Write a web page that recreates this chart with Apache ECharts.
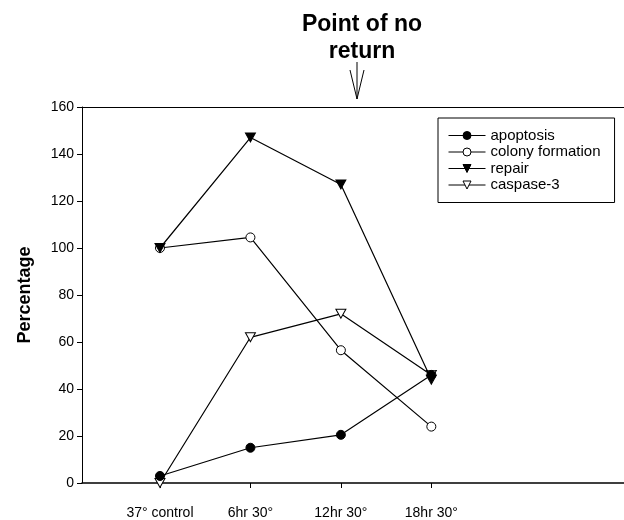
<!DOCTYPE html>
<html>
<head>
<meta charset="utf-8">
<script src="https://cdn.jsdelivr.net/npm/echarts@6/dist/echarts.min.js"></script>
<style>
  html, body { margin: 0; padding: 0; background: #fff; }
  #chart { width: 624px; height: 520px; }
</style>
</head>
<body>
<div id="chart"></div>
<script>
// categories sit at x = 1..4
let categories = ['37° control', '6hr 30°', '12hr 30°', '18hr 30°'];
let catPos = [1, 2, 3, 4];
let apoptosis = [3, 15, 20.5, 46];
let colony = [100, 104.5, 56.5, 24];
let repair = [100, 147, 127, 44];
let caspase = [0, 62, 72, 46];
let yTicks = [0, 20, 40, 60, 80, 100, 120, 140, 160];

function pairs(vals){
    var out = [];
    for (var i = 0; i < vals.length; i++) {
        out.push([catPos[i], vals[i]]);
    }
    return out;
}

var font = 'Liberation Sans, Arial, sans-serif';
var tri = 'path://M0,0 L10,0 L5,9 Z';

myChart = echarts.init(document.getElementById('chart'));

option = {
    animation: false,
    textStyle: { fontFamily: font, color: '#000' },
    title: {
        text: 'Point of no\nreturn',
        left: 357,
        top: 6,
        textAlign: 'center',
        textStyle: { fontFamily: font, fontSize: 23, fontWeight: 'bold', color: '#000', lineHeight: 27 }
    },
    legend: {
        orient: 'vertical',
        left: 438,
        top: 118,
        width: 177,
        itemWidth: 37,
        itemHeight: 10,
        itemGap: 1.5,
        padding: [10, 14, 10, 10],
        borderColor: '#000',
        borderWidth: 1,
        lineStyle: { width: 1 },
        itemStyle: { borderWidth: 1 },
        textStyle: { fontFamily: font, fontSize: 15, lineHeight: 15, color: '#000' },
        data: ['apoptosis', 'colony formation', 'repair', 'caspase-3']
    },
    grid: { left: 82, right: 0, top: 107, bottom: 37 },
    xAxis: [{
        type: 'value',
        min: 0.138,
        max: 6.13,
        splitLine: { show: false },
        axisLine: { lineStyle: { color: '#000', width: 1.5 } },
        axisTick: { show: true, length: 5, inside: false, customValues: catPos, lineStyle: { color: '#000' } },
        axisLabel: {
            customValues: catPos,
            margin: 23,
            fontSize: 14,
            color: '#000',
            fontFamily: font,
            formatter: function (v) { return categories[Math.round(v) - 1] || ''; }
        }
    }, {
        type: 'value',
        position: 'top',
        min: 0.138,
        max: 6.13,
        splitLine: { show: false },
        axisLine: { lineStyle: { color: '#000', width: 1 } },
        axisTick: { show: false },
        axisLabel: { show: false }
    }],
    yAxis: {
        type: 'value',
        min: 0,
        max: 160,
        interval: 20,
        name: 'Percentage',
        nameLocation: 'middle',
        nameGap: 48,
        nameTextStyle: { fontFamily: font, fontSize: 18, fontWeight: 'bold', color: '#000' },
        splitLine: { show: false },
        axisLine: { show: true, lineStyle: { color: '#000', width: 1 } },
        axisTick: { show: true, length: 5, lineStyle: { color: '#000' } },
        axisLabel: { fontSize: 14, color: '#000', fontFamily: font, margin: 8 }
    },
    graphic: [
        { type: 'line', shape: { x1: 357, y1: 62, x2: 357, y2: 99 }, style: { stroke: '#000', lineWidth: 1 } },
        { type: 'polyline', shape: { points: [[350, 70], [357, 99], [364, 70]] }, style: { stroke: '#000', fill: null, lineWidth: 1 } }
    ],
    series: [
        {
            name: 'apoptosis', type: 'line', data: pairs(apoptosis),
            symbol: 'circle', symbolSize: 9,
            lineStyle: { color: '#000', width: 1.2 },
            itemStyle: { color: '#000', borderColor: '#000' }, z: 5
        },
        {
            name: 'colony formation', type: 'line', data: pairs(colony),
            symbol: 'circle', symbolSize: 9,
            lineStyle: { color: '#000', width: 1.2 },
            itemStyle: { color: '#fff', borderColor: '#000', borderWidth: 1 }
        },
        {
            name: 'repair', type: 'line', data: pairs(repair),
            symbol: tri, symbolSize: [10, 9],
            lineStyle: { color: '#000', width: 1.2 },
            itemStyle: { color: '#000', borderColor: '#000' }, z: 4
        },
        {
            name: 'caspase-3', type: 'line', data: pairs(caspase),
            symbol: tri, symbolSize: [10, 9],
            lineStyle: { color: '#000', width: 1.2 },
            itemStyle: { color: '#fff', borderColor: '#000', borderWidth: 1 }
        }
    ]
};

myChart.setOption(option);
</script>
</body>
</html>
